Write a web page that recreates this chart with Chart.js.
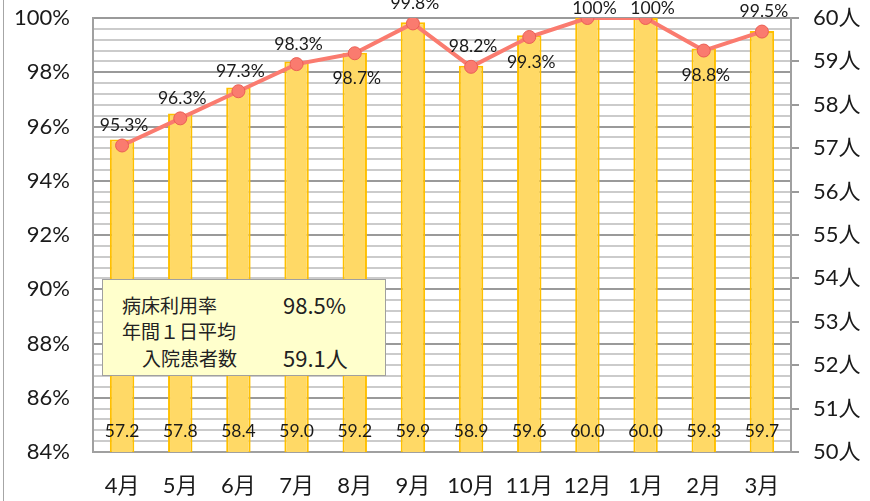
<!DOCTYPE html>
<html>
<head>
<meta charset="utf-8">
<script src="https://cdn.jsdelivr.net/npm/chart.js@4/dist/chart.umd.min.js"></script>
<style>
body{margin:0;background:#fff;}
#wrap{position:relative;width:870px;height:501px;}
#edge{position:absolute;left:3px;top:0;width:1px;height:501px;background:#a6a6a6;}
#note{position:absolute;left:102px;top:279px;width:282px;height:95px;background:#ffffcc;border:1px solid #a0a0a0;
font-family:"Noto Sans CJK JP",sans-serif;font-size:19px;color:#222;line-height:26px;}
#note div{position:absolute;white-space:nowrap;}
</style>
</head>
<body>
<div id="wrap">
<canvas id="c" width="870" height="501"></canvas>
<div id="edge"></div>
<div id="note">
<div style="left:19px;top:12px">病床利用率</div>
<div style="left:180px;top:11px;font-size:22px">98.5%</div>
<div style="left:19px;top:38px">年間１日平均</div>
<div style="left:39px;top:65px">入院患者数</div>
<div style="left:180px;top:64px;font-size:22px">59.1人</div>
</div>
</div>
<script>

const months=["4月","5月","6月","7月","8月","9月","10月","11月","12月","1月","2月","3月"];

const patients=[57.2,57.8,58.4,59.0,59.2,59.9,58.9,59.6,60.0,60.0,59.3,59.7];

const rates=[95.3,96.3,97.3,98.3,98.7,99.8,98.2,99.3,100,100,98.8,99.5];

const rateTicks=[84,86,88,90,92,94,96,98,100];
const patientTicks=[50,51,52,53,54,55,56,57,58,59,60];

// labels that sit under the point
const belowIdx=[4,7,10];

const FONT="Lato, 'Noto Sans CJK JP', sans-serif";

function isMajor(v){
return Math.abs(v/2-Math.round(v/2))<1e-6;
}

function noPad(s){
s.paddingTop=0;
s.paddingBottom=0;
s.paddingLeft=0;
s.paddingRight=0;
}

const labelPlugin={
id:'labels',
afterDatasetsDraw(chart){

const ctx=chart.ctx;
ctx.save();
ctx.font="17.5px "+FONT;
ctx.fillStyle="#1a1a1a";
ctx.textAlign="center";
ctx.textBaseline="middle";

const barMeta=chart.getDatasetMeta(0);
barMeta.data.forEach((b,i)=>{
ctx.fillText(patients[i].toFixed(1),b.x,431);
});

const lineMeta=chart.getDatasetMeta(1);
lineMeta.data.forEach((p,i)=>{
const below=belowIdx.includes(i);
let y=below?p.y+25:p.y-20;
// excel pushed the 100% labels down to fit
if(rates[i]===100) y=p.y-10;
ctx.fillText(rates[i]+"%",p.x+(rates[i]===100?7:2),y);
});

ctx.restore();

}
};

new Chart(document.getElementById("c"),{
data:{
labels:months,
datasets:[
{
type:'bar',
label:'入院患者数',
data:patients,
yAxisID:'y1',
backgroundColor:'#ffd966',
borderColor:'#ffc000',
borderWidth:2,
categoryPercentage:1,
barPercentage:0.42,
order:1
},
{
type:'line',
label:'病床利用率',
data:rates,
yAxisID:'y',
borderColor:'#fa7b6f',
borderWidth:4,
pointRadius:6.5,
pointBackgroundColor:'#fa7b6f',
pointBorderColor:'#ea5f55',
pointBorderWidth:1,
tension:0,
order:0
}
]
},
options:{
responsive:false,
animation:false,
events:[],
layout:{padding:{top:18,left:0,right:0,bottom:0}},
plugins:{legend:{display:false},tooltip:{enabled:false}},
scales:{
x:{
offset:true,
grid:{display:false},
border:{display:true,color:'#a0a0a0',width:2},
ticks:{font:{size:22,family:FONT},color:'#1a1a1a',padding:13,maxRotation:0},
afterFit(s){s.height=49;noPad(s);}
},
y:{
position:'left',
min:84,
max:100,
ticks:{
stepSize:0.4,
autoSkip:false,
font:{size:22,family:FONT},
color:'#1a1a1a',
padding:23,
callback:v=>{
const r=Math.round(v*10)/10;
return (isMajor(r) && rateTicks.includes(Math.round(r)))?Math.round(r)+"%":"";
}
},
grid:{
drawTicks:false,
lineWidth:2,
color:c=>isMajor(Math.round(c.tick.value*10)/10)?'#9a9a9a':'#cbcbcb'
},
border:{display:true,color:'#a0a0a0',width:2},
afterFit(s){s.width=93;noPad(s);}
},
y1:{
position:'right',
min:50,
max:60,
afterBuildTicks(s){s.ticks=patientTicks.map(v=>({value:v}));},
ticks:{
font:{size:22,family:FONT},
color:'#1a1a1a',
padding:14,
callback:v=>v+"人"
},
grid:{drawOnChartArea:false,drawTicks:true,tickLength:8,color:'#9a9a9a',lineWidth:2},
border:{display:true,color:'#a0a0a0',width:2},
afterFit(s){s.width=79;noPad(s);}
}
}
},
plugins:[labelPlugin]
});

</script>
</body>
</html>
